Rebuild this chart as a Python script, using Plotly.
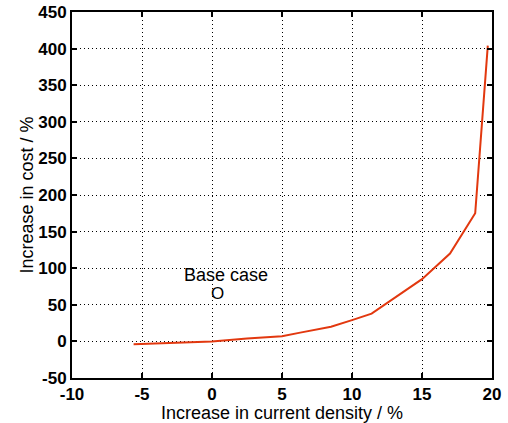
import plotly.graph_objects as go

current_density = [-5.6, -2.0, 0.0, 2.5, 5.0, 6.3, 8.5, 10.0, 11.4, 15.0, 17.0, 18.8, 19.7]
cost_increase = [-4, -2, 0, 4, 7, 12, 20, 29, 38, 85, 120, 175, 404]

base_x = [0.4]
base_y = [66]
base_label = "Base case"

x_ticks = [-10, -5, 0, 5, 10, 15, 20]
x_tick_labels = ["-10", "-5", "0", "5", "10", "15", "20"]
y_ticks = [-50, 0, 50, 100, 150, 200, 250, 300, 350, 400, 450]
y_tick_labels = ["-50", "0", "50", "100", "150", "200", "250", "300", "350", "400", "450"]

font = "Liberation Sans, Arial, sans-serif"

fig = go.Figure()
fig.add_trace(go.Scatter(x=current_density, y=cost_increase, mode="lines",
                         line=dict(color="#e2380f", width=2), showlegend=False))
fig.add_annotation(x=base_x[0], y=base_y[0], text="O", showarrow=False,
                   font=dict(family=font, size=17, color="black"))
fig.add_annotation(x=base_x[0] + 0.6, y=base_y[0], yshift=18, text=base_label, showarrow=False,
                   font=dict(family=font, size=18, color="black"))

axis_common = dict(showgrid=True, gridcolor="black", griddash="1px,3px", gridwidth=1,
                   showline=True, linecolor="black", linewidth=2, mirror="ticks",
                   ticks="inside", ticklen=5, tickcolor="black", tickwidth=2,
                   zeroline=False, automargin=False, ticklabeloverflow="allow",
                   tickfont=dict(family=font, size=17, color="black", weight="bold"))

fig.update_xaxes(range=[-10, 20], tickvals=x_ticks, ticktext=x_tick_labels,
                 title=dict(text="Increase in current density / %", standoff=0,
                            font=dict(family=font, size=18, color="black")),
                 **axis_common)
fig.update_yaxes(range=[-50, 450], tickvals=y_ticks, ticktext=y_tick_labels,
                 title=dict(text="Increase in cost / %", standoff=0,
                            font=dict(family=font, size=18, color="black")),
                 **axis_common)

fig.update_layout(width=508, height=423, plot_bgcolor="white", paper_bgcolor="white",
                  margin=dict(l=72, r=16, t=12, b=45))
fig.write_html("out.html", config={"displayModeBar": False},
               post_script="document.body.style.margin='0px';")
